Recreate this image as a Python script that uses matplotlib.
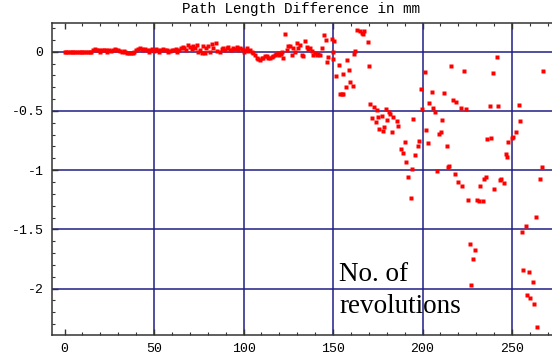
import numpy as np
import matplotlib
matplotlib.use("Agg")
import matplotlib.pyplot as plt
from matplotlib.ticker import MultipleLocator, FixedLocator

# --- data: revolution number vs path length difference (mm)
# quiet start: flat line then small wiggle around zero
rev_start = list(range(0, 74))
diff_start = [0.0] * 16 + [
    0.01, 0.02, 0.01, 0.015, 0.0, 0.01, 0.015, 0.01, 0.0, 0.01,
    0.005, 0.015, 0.02, 0.01, 0.015, 0.005, 0.0, 0.005, 0.0, -0.01,
    -0.015, -0.01, -0.015, 0.0, 0.01, 0.02, 0.03, 0.02, 0.01, 0.02,
    0.01, 0.0, 0.01, 0.02, 0.005, 0.02, 0.015, 0.0, 0.01, 0.02,
    0.01, 0.015, 0.0, 0.005, 0.01, 0.015, 0.02, 0.0, 0.01, 0.03,
    0.04, 0.03, 0.01, 0.06, 0.04, 0.02, 0.05, 0.03,
]

# middle part, still close to zero with a small dip after 105
rev_mid = [73.9, 74.7, 75.7, 76.6, 77.4, 78.5, 79.3, 80.2, 81.3, 82.2,
           83.1, 84.5, 85.0, 86.9, 87.8, 88.7, 89.6, 90.6, 91.5, 92.5,
           93.4, 94.3, 95.2, 96.2, 97.1, 98.0, 99.0, 100.0, 100.8, 101.8,
           102.7, 103.6, 104.6, 105.5, 106.4, 107.4, 108.3, 109.2, 110.2, 111.0,
           112.0, 113.0, 113.9, 115.0, 115.8, 116.7, 117.6, 118.4, 119.1, 120.0,
           121.0, 121.7, 122.2]
diff_mid = [0.057, -0.005, 0.014, -0.014, 0.051, -0.014, 0.03, 0.051, 0.0, 0.062,
            0.029, 0.076, 0.006, -0.005, 0.02, 0.029, 0.01, 0.034, 0.04, 0.014,
            0.01, 0.029, 0.02, 0.042, 0.014, 0.03, 0.023, 0.0, 0.014, 0.034,
            0.006, 0.01, -0.005, -0.015, -0.028, -0.056, -0.06, -0.07, -0.056, -0.05,
            -0.034, -0.04, -0.056, -0.05, -0.042, -0.035, -0.028, -0.02, -0.014, -0.03,
            -0.022, 0.0, -0.056]

# scattered part after ~123 revolutions
rev_late = [123.4, 124.1, 125.0, 126.0, 126.9, 127.8, 128.8, 129.7, 130.6, 131.6,
            132.5, 133.4, 134.4, 135.3, 136.0, 137.2, 138.1, 138.8, 139.9, 140.8,
            141.8, 142.7, 143.7, 145.0, 145.8, 146.5, 147.0, 149.3, 149.7, 150.2,
            150.7, 151.4, 153.4, 153.9, 154.9, 155.4, 155.8, 157.1, 157.7, 158.9,
            159.5, 161.3, 161.9, 162.5, 163.6, 165.1, 166.0, 166.9, 167.5, 169.4,
            170.1, 170.7, 172.0, 173.1, 174.0, 174.7, 175.0, 175.7, 177.1, 177.9,
            178.7, 179.6, 180.4, 181.0, 182.0, 182.8, 183.7, 185.5, 186.5, 187.7,
            189.1, 190.2, 190.8, 191.7, 193.4, 194.0, 194.9, 195.8, 197.3, 198.0,
            199.1, 199.6, 201.4, 202.1, 203.0, 203.8, 205.3, 206.0, 207.0, 208.0,
            209.4, 210.1, 210.8, 211.9, 213.5, 214.1, 214.8, 215.8, 217.2, 218.2,
            218.9, 219.8, 221.5, 222.3, 223.2, 224.0, 225.6, 226.4, 227.1, 228.0,
            229.5, 230.3, 231.3, 231.9, 233.6, 234.5, 235.2, 235.9, 237.5, 238.3,
            239.2, 240.1, 241.5, 242.3, 243.3, 244.0, 245.7, 246.4, 247.2, 247.9,
            249.7, 250.7, 252.0, 253.7, 254.5, 255.4, 256.0, 257.8, 258.4, 259.3,
            260.2, 261.6, 262.5, 263.4, 264.0, 265.8, 266.6, 267.2]
diff_late = [0.147, 0.014, 0.051, 0.051, -0.028, 0.034, 0.0, 0.071, 0.034, 0.059,
             -0.028, -0.039, 0.086, 0.042, 0.019, 0.029, 0.006, -0.03, -0.014, -0.03,
             -0.022, -0.03, 0.035, 0.143, 0.097, -0.087, -0.047, 0.11, -0.062, 0.0,
             0.088, -0.203, -0.11, -0.354, -0.354, -0.186, -0.354, -0.298, -0.073, -0.157,
             -0.256, -0.292, -0.019, 0.008, 0.186, 0.172, 0.158, 0.149, 0.172, 0.082,
             -0.118, -0.439, -0.558, -0.471, -0.596, -0.489, -0.551, -0.655, -0.547, -0.669,
             -0.635, -0.486, -0.574, -0.513, -0.522, -0.682, -0.551, -0.582, -0.631, -0.824,
             -0.852, -0.766, -0.927, -1.056, -1.239, -0.986, -0.572, -0.876, -0.793, -0.752,
             -0.316, -0.488, -0.17, -0.657, -0.768, -0.437, -0.338, -0.473, -0.511, -1.011,
             -0.697, -0.678, -0.574, -0.353, -0.792, -0.976, -0.962, -0.121, -0.411, -1.032,
             -0.423, -1.098, -0.475, -1.133, -0.16, -0.488, -1.251, -1.625, -1.969, -1.749,
             -1.676, -1.255, -1.262, -1.133, -1.264, -1.073, -1.06, -0.741, -0.462, -0.728,
             -0.184, -1.156, -0.047, -0.462, -1.083, -1.073, -1.105, -0.863, -0.886, -0.766,
             -0.728, -0.717, -0.68, -0.45, -0.583, -1.519, -1.845, -1.471, -2.053, -1.857,
             -2.078, -1.943, -2.127, -1.397, -2.321, -1.072, -0.971, -0.16]

x_ticks = [0, 50, 100, 150, 200, 250]
y_ticks = [0, -0.5, -1, -1.5, -2]
y_labels = ["0", "-0.5", "-1", "-1.5", "-2"]

revs = rev_start + rev_mid + rev_late
diffs = diff_start + diff_mid + diff_late

mono = "Liberation Mono"
grid_col = "#1f1f85"

fig = plt.figure(figsize=(5.52, 3.62), dpi=100)
ax = fig.add_axes([52 / 552, 27.5 / 362, 500 / 552, 311.5 / 362])

for xv in x_ticks[1:]:
    ax.axvline(xv, color=grid_col, lw=1.1, zorder=1)
for yv in y_ticks:
    ax.axhline(yv, color=grid_col, lw=1.1, zorder=1)

ax.plot(revs, diffs, "s", color="red", ms=2.4, mec="none", zorder=3)

ax.set_xlim(-7, 272.3)
ax.set_ylim(-2.387, 0.242)

ax.xaxis.set_major_locator(FixedLocator(x_ticks))
ax.xaxis.set_minor_locator(MultipleLocator(10))
ax.yaxis.set_major_locator(FixedLocator(y_ticks))
ax.yaxis.set_minor_locator(MultipleLocator(0.1))
ax.set_yticklabels(y_labels)

ax.tick_params(which="both", direction="in", top=True, right=False,
               colors="#333333", labelcolor="black")
ax.tick_params(which="major", length=4, width=1, labelsize=9.5, pad=6)
ax.tick_params(which="minor", length=2.5, width=0.8)
for lab in ax.get_xticklabels() + ax.get_yticklabels():
    lab.set_family(mono)

ax.spines["right"].set_visible(False)
for s in ["left", "bottom", "top"]:
    ax.spines[s].set_color("#333333")
    ax.spines[s].set_linewidth(1.1)

fig.text(301 / 552, 1 - 8.5 / 362, "Path Length Difference in mm",
         family=mono, fontsize=10.3, ha="center", va="center")

ax.text(153.5, -1.935, "No. of", family="Liberation Serif", fontsize=19.5,
        va="baseline", ha="left", zorder=4)
ax.text(153.5, -2.203, "revolutions", family="Liberation Serif", fontsize=19.5,
        va="baseline", ha="left", zorder=4)

fig.savefig("out.png", dpi=100)
